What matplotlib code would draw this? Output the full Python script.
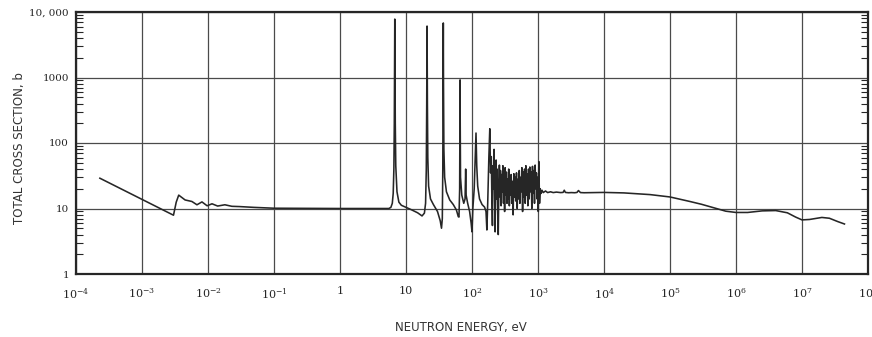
import matplotlib
matplotlib.use("Agg")
import matplotlib.pyplot as plt
import numpy as np
from matplotlib.ticker import LogLocator, NullFormatter, NullLocator

# thermal region
e_thermal = [2.3e-4, 3.0e-3, 3.3e-3, 3.6e-3, 4.5e-3, 5.7e-3, 6.8e-3, 8.1e-3,
             9.7e-3, 1.15e-2, 1.4e-2, 1.8e-2, 2.3e-2, 3.0e-2, 5.0e-2, 0.1, 1.0, 5.5]
xs_thermal = [29, 7.9, 12.5, 16, 13.5, 12.8, 11.4, 12.6,
              11.0, 11.8, 10.9, 11.4, 10.8, 10.7, 10.4, 10.1, 10.0, 10.0]

# resolved resonances, 6 - 170 eV
e_res = [5.9, 6.2, 6.4, 6.55, 6.65, 6.72, 6.76, 6.8, 6.88, 7.0, 7.3, 7.8, 8.5,
         10, 12, 15, 17.5, 19.0, 19.8, 20.3, 20.6, 20.85, 21.1, 21.4, 22, 23.5,
         26, 30, 33, 34.5, 35.5, 36.1, 36.5, 36.75, 37.0, 37.5, 38.5, 41, 46,
         52, 58, 62, 63.5, 65, 65.7, 66, 66.3, 67, 70, 75, 78.5, 80.2, 81.5,
         86, 92, 97, 100, 103, 108, 112, 115, 118, 122, 130, 142, 155, 163]
xs_res = [10.4, 12, 17, 40, 200, 2000, 7800, 2000, 200, 45, 18, 12.5, 11.2,
          10.4, 9.6, 8.6, 7.7, 8.5, 12, 40, 400, 6100, 400, 60, 22, 14,
          11.5, 9, 6.5, 5.0, 7, 40, 800, 6800, 800, 80, 30, 18, 13.5,
          11.5, 9.5, 7.5, 7.4, 20, 200, 920, 200, 30, 16, 12, 14, 40, 16,
          12, 9, 6, 4.4, 10, 20, 60, 142, 45, 22, 14, 11.5, 10.5, 9]

# dense resonance region, 168 eV - 1.2 keV
e_dense = [168, 173, 180, 186, 191, 196, 200, 204, 208, 212, 216, 220, 224,
           228, 232, 236, 240, 245, 250, 255, 260, 265, 270, 276, 282, 288,
           294, 300, 306, 312, 318, 325, 332, 339, 346, 353, 360, 368, 376,
           384, 392, 400, 410, 420, 430, 440, 450, 460, 472, 484, 496, 508,
           520, 532, 545, 558, 570, 584, 598, 612, 626, 640, 655, 670, 686,
           702, 718, 735, 752, 770, 788, 806, 825, 845, 865, 885, 905, 925,
           947, 968, 990, 1010, 1030, 1055, 1080, 1110, 1150]
xs_dense = [4.7, 12, 60, 165, 35, 62, 14, 5.5, 45, 20, 80, 16, 4.4,
            28, 55, 14, 40, 9, 4.0, 22, 46, 15, 38, 11, 33, 18,
            45, 12, 30, 9, 42, 16, 36, 12, 28, 14, 40, 11, 30,
            16, 33, 12, 26, 8, 34, 15, 30, 13, 35, 10, 28, 14,
            38, 12, 30, 18, 42, 9, 36, 15, 40, 12, 45, 16, 34,
            11, 40, 14, 43, 18, 36, 10, 44, 17, 38, 12, 46, 20,
            35, 14, 30, 9, 52, 12, 20, 17, 19]

# smooth region up to 44 MeV
e_fast = [1200, 1300, 1400, 1550, 1700, 1900, 2200, 2400, 2500, 2600, 2900,
          3200, 3600, 3900, 4100, 4400, 5000, 1e4, 2e4, 5e4, 1e5, 2e5, 3e5,
          5e5, 7e5, 1e6, 1.5e6, 2.5e6, 4e6, 6e6, 8e6, 1e7, 1.3e7, 2e7,
          2.6e7, 3.5e7, 4.4e7]
xs_fast = [17.5, 18.5, 17.5, 18.0, 17.5, 17.8, 17.5, 17.6, 19.0, 17.6, 17.4,
           17.5, 17.4, 17.6, 18.8, 17.5, 17.4, 17.6, 17.3, 16.3, 15.0, 12.8, 11.6,
           10.0, 9.1, 8.7, 8.7, 9.2, 9.3, 8.6, 7.4, 6.7, 6.8, 7.3,
           7.1, 6.3, 5.8]

energy = np.array(e_thermal + e_res + e_dense + e_fast)
sigma = np.array(xs_thermal + xs_res + xs_dense + xs_fast)

x_ticks = [1e-4, 1e-3, 1e-2, 1e-1, 1, 10, 1e2, 1e3, 1e4, 1e5, 1e6, 1e7, 1e8]
x_labels = [r"$10^{-4}$", r"$10^{-3}$", r"$10^{-2}$", r"$10^{-1}$", "1", "10",
            r"$10^{2}$", r"$10^{3}$", r"$10^{4}$", r"$10^{5}$", r"$10^{6}$",
            r"$10^{7}$", r"$10^{8}$"]
y_ticks = [1, 10, 100, 1000, 10000]
y_labels = ["1", "10", "100", "1000", "10, 000"]

plt.rcParams["mathtext.fontset"] = "dejavuserif"

fig = plt.figure(figsize=(8.72, 3.37), dpi=100)
ax = fig.add_axes([76 / 872, 63 / 337, 792 / 872, 262 / 337])

ink = "#262626"
ax.plot(energy, sigma, color=ink, lw=1.15)

ax.set_xscale("log")
ax.set_yscale("log")
ax.set_xlim(1e-4, 1e8)
ax.set_ylim(1, 1e4)

ax.set_xticks(x_ticks)
ax.set_xticklabels(x_labels, family="DejaVu Serif", fontsize=8, color=ink)
ax.set_yticks(y_ticks)
ax.set_yticklabels(y_labels, family="DejaVu Serif", fontsize=7.5, color=ink)
ax.xaxis.set_minor_locator(NullLocator())
ax.yaxis.set_minor_locator(LogLocator(base=10, subs=np.arange(2, 10), numticks=20))
ax.yaxis.set_minor_formatter(NullFormatter())

ax.tick_params(axis="both", which="major", length=0, pad=9)
ax.tick_params(axis="y", which="major", pad=5)
ax.tick_params(axis="y", which="minor", direction="in", length=5, width=0.8,
               color=ink, left=True, right=True)

ax.grid(True, which="major", color="#4a4a4a", lw=0.9)
for s in ax.spines.values():
    s.set_color(ink)
    s.set_linewidth(1.6)

fig.text(461 / 872, 1 - 328 / 337, "NEUTRON ENERGY, eV", ha="center", va="center",
         fontsize=8.5, color="#333333", family="DejaVu Sans")
fig.text(20 / 872, 1 - 148 / 337, "TOTAL CROSS SECTION, b", ha="center", va="center",
         rotation=90, fontsize=8.5, color="#333333", family="DejaVu Sans")

fig.savefig("out.png", dpi=100)
